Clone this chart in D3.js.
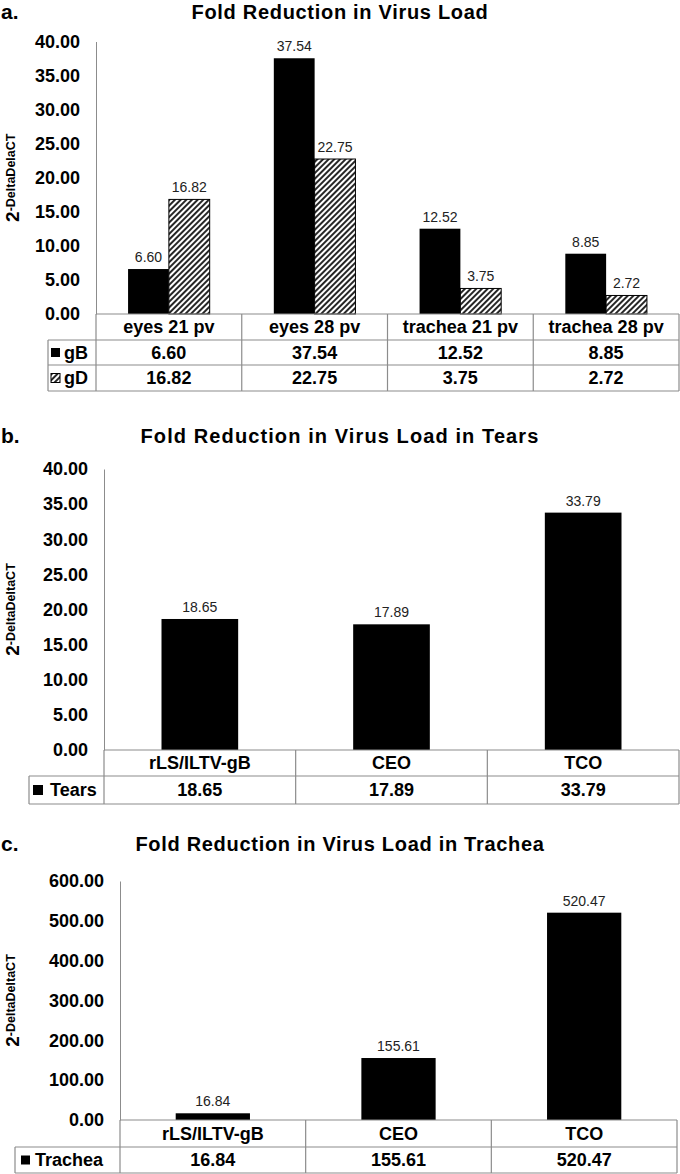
<!DOCTYPE html>
<html>
<head>
<meta charset="utf-8">
<script src="https://cdn.jsdelivr.net/npm/d3@7"></script>
<style>
  body { margin: 0; background: #fff; }
  text { font-family: Arial, "Liberation Sans", sans-serif; }
</style>
</head>
<body>
<svg id="chart" width="680" height="1174"></svg>
<script>
// panel a
const categoriesA = ["eyes 21 pv", "eyes 28 pv", "trachea 21 pv", "trachea 28 pv"];
const gBValues = [6.60, 37.54, 12.52, 8.85];
const gDValues = [16.82, 22.75, 3.75, 2.72];
const ticksA = [0, 5, 10, 15, 20, 25, 30, 35, 40];

// panel b
const categoriesB = ["rLS/ILTV-gB", "CEO", "TCO"];
const tearsValues = [18.65, 17.89, 33.79];
const ticksB = [0, 5, 10, 15, 20, 25, 30, 35, 40];

// panel c
const categoriesC = ["rLS/ILTV-gB", "CEO", "TCO"];
const tracheaValues = [16.84, 155.61, 520.47];
const ticksC = [0, 100, 200, 300, 400, 500, 600];

const svg = d3.select("#chart");
const fmt = d3.format(".2f");
const gridColor = "#8c8c8c";

// diagonal hatch for gD
const pat = svg.append("defs").append("pattern")
  .attr("id", "hatch")
  .attr("patternUnits", "userSpaceOnUse")
  .attr("width", 4)
  .attr("height", 4)
  .attr("patternTransform", "rotate(45)");
pat.append("rect").attr("width", 4).attr("height", 4).attr("fill", "#fff");
pat.append("line")
  .attr("x1", 1).attr("y1", 0).attr("x2", 1).attr("y2", 4)
  .attr("stroke", "#000").attr("stroke-width", 1.7);

function drawPanel(cfg) {
  const g = svg.append("g");

  // panel letter + title
  g.append("text")
    .attr("x", 1).attr("y", cfg.titleY)
    .attr("font-size", 21).attr("font-weight", "bold")
    .text(cfg.letter);
  g.append("text")
    .attr("x", 340).attr("y", cfg.titleY)
    .attr("text-anchor", "middle")
    .attr("font-size", 20).attr("font-weight", "bold")
    .attr("letter-spacing", cfg.titleSpacing)
    .text(cfg.title);

  const x = d3.scaleBand()
    .domain(cfg.categories)
    .range([cfg.left, cfg.right])
    .paddingInner(cfg.pad)
    .paddingOuter(cfg.pad / 2);

  const x1 = d3.scaleBand()
    .domain(cfg.series.map((s) => s.name))
    .range([0, x.bandwidth()]);

  const y = d3.scaleLinear()
    .domain([0, d3.max(cfg.ticks)])
    .range([cfg.rows[0], cfg.yTop]);

  // y axis
  const ax = g.append("g")
    .attr("transform", `translate(${cfg.left},0)`)
    .call(d3.axisLeft(y).tickValues(cfg.ticks).tickSize(0).tickPadding(16).tickFormat(fmt));
  ax.select(".domain").attr("stroke", gridColor);
  ax.selectAll("text")
    .attr("font-size", 18).attr("font-weight", "bold")
    .attr("font-family", "Arial, 'Liberation Sans', sans-serif")
    .attr("fill", "#000");

  // y axis title: 2^-DeltaDeltaCT
  const yt = g.append("text")
    .attr("transform", `translate(${cfg.ylabX},${(cfg.rows[0] + cfg.yTop) / 2}) rotate(-90)`)
    .attr("text-anchor", "middle")
    .attr("font-weight", "bold");
  yt.append("tspan").attr("font-size", 19).text("2");
  yt.append("tspan").attr("font-size", 12.5).attr("dy", -4).text(cfg.ylabSup);

  // bars
  cfg.series.forEach((s) => {
    g.selectAll(null)
      .data(cfg.categories.map((c, i) => ({ c, v: s.values[i] })))
      .join("rect")
      .attr("x", (d) => x(d.c) + x1(s.name))
      .attr("y", (d) => y(d.v))
      .attr("width", x1.bandwidth())
      .attr("height", (d) => y(0) - y(d.v))
      .attr("fill", s.fill)
      .attr("stroke", s.stroke || "none")
      .attr("stroke-width", 1);

    g.selectAll(null)
      .data(cfg.categories.map((c, i) => ({ c, v: s.values[i] })))
      .join("text")
      .attr("x", (d) => x(d.c) + x1(s.name) + x1.bandwidth() / 2)
      .attr("y", (d) => y(d.v) - 7)
      .attr("text-anchor", "middle")
      .attr("font-size", 14)
      .attr("fill", "#222")
      .text((d) => fmt(d.v));
  });

  // data table
  const rows = cfg.rows;
  const last = rows[rows.length - 1];
  const step = x.step();
  const edges = cfg.categories.map((c, i) => cfg.left + i * step).concat([cfg.right]);
  const tl = g.append("g").attr("stroke", gridColor).attr("stroke-width", 1.2);

  tl.append("line").attr("x1", cfg.left).attr("x2", cfg.right).attr("y1", rows[0]).attr("y2", rows[0]);
  rows.slice(1).forEach((r) => {
    tl.append("line").attr("x1", cfg.legendLeft).attr("x2", cfg.right).attr("y1", r).attr("y2", r);
  });
  edges.forEach((e) => {
    tl.append("line").attr("x1", e).attr("x2", e).attr("y1", rows[0]).attr("y2", last);
  });
  tl.append("line").attr("x1", cfg.legendLeft).attr("x2", cfg.legendLeft).attr("y1", rows[1]).attr("y2", last);

  // header row
  g.selectAll(null)
    .data(cfg.categories)
    .join("text")
    .attr("x", (d) => x(d) + x.bandwidth() / 2)
    .attr("y", (rows[0] + rows[1]) / 2)
    .attr("dy", "0.36em")
    .attr("text-anchor", "middle")
    .attr("font-size", 18).attr("font-weight", "bold")
    .text((d) => d);

  // value rows with legend keys
  cfg.series.forEach((s, j) => {
    const mid = (rows[j + 1] + rows[j + 2]) / 2;
    g.append("rect")
      .attr("x", cfg.legendLeft + cfg.keyOffset)
      .attr("y", mid - cfg.keySize / 2)
      .attr("width", cfg.keySize)
      .attr("height", cfg.keySize)
      .attr("fill", s.fill)
      .attr("stroke", "#000")
      .attr("stroke-width", s.stroke ? 1 : 0);
    g.append("text")
      .attr("x", cfg.legendLeft + cfg.keyOffset + cfg.keySize + cfg.keyGap)
      .attr("y", mid)
      .attr("dy", "0.36em")
      .attr("font-size", 18).attr("font-weight", "bold")
      .text(s.name);

    g.selectAll(null)
      .data(cfg.categories.map((c, i) => ({ c, v: s.values[i] })))
      .join("text")
      .attr("x", (d) => x(d.c) + x.bandwidth() / 2)
      .attr("y", mid)
      .attr("dy", "0.36em")
      .attr("text-anchor", "middle")
      .attr("font-size", 18).attr("font-weight", "bold")
      .text((d) => fmt(d.v));
  });
}

drawPanel({
  letter: "a.", title: "Fold Reduction in Virus Load", titleY: 19, titleSpacing: 0.7,
  categories: categoriesA, ticks: ticksA,
  series: [
    { name: "gB", values: gBValues, fill: "#000" },
    { name: "gD", values: gDValues, fill: "url(#hatch)", stroke: "#000" }
  ],
  left: 96, right: 679, yTop: 41.5, rows: [314, 340, 365, 391],
  pad: 0.44, legendLeft: 48, keyOffset: 3, keySize: 9, keyGap: 4,
  ylabX: 19, ylabSup: "-DeltaDelaCT"
});

drawPanel({
  letter: "b.", title: "Fold Reduction in Virus Load in Tears", titleY: 443, titleSpacing: 1.1,
  categories: categoriesB, ticks: ticksB,
  series: [{ name: "Tears", values: tearsValues, fill: "#000" }],
  left: 104, right: 679, yTop: 469, rows: [750, 776, 804],
  pad: 0.6, legendLeft: 29, keyOffset: 4, keySize: 10, keyGap: 7,
  ylabX: 19, ylabSup: "-DeltaDeltaCT"
});

drawPanel({
  letter: "c.", title: "Fold Reduction in Virus Load in Trachea", titleY: 851, titleSpacing: 0.7,
  categories: categoriesC, ticks: ticksC,
  series: [{ name: "Trachea", values: tracheaValues, fill: "#000" }],
  left: 120, right: 677, yTop: 881, rows: [1120, 1147, 1173],
  pad: 0.6, legendLeft: 15, keyOffset: 6, keySize: 9, keyGap: 5,
  ylabX: 19, ylabSup: "-DeltaDeltaCT"
});
</script>
</body>
</html>
